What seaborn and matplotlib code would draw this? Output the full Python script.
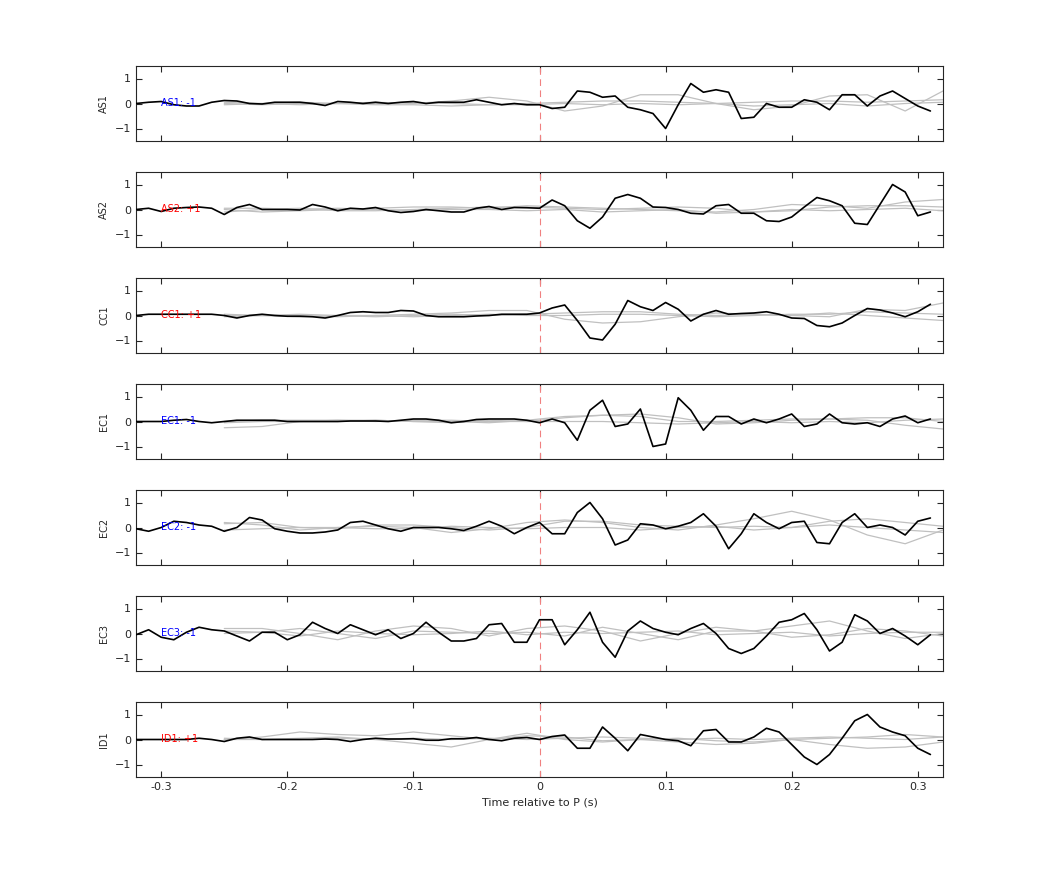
import numpy as np
import pandas as pd
import matplotlib
matplotlib.use("Agg")
import matplotlib.pyplot as plt
import seaborn as sns

stations = ["AS1", "AS2", "CC1", "EC1", "EC2", "EC3", "ID1"]
polarity = ["-1", "+1", "+1", "-1", "-1", "-1", "+1"]

t_black = np.round(np.arange(-0.32, 0.315, 0.01), 2)
t_gray = np.round(np.arange(-0.25, 0.33, 0.03), 2)

black = {
    "AS1": [0.0, 0.05, 0.08, -0.05, -0.1, -0.1, 0.05, 0.12, 0.1, 0.0, -0.02, 0.05, 0.05, 0.05,
            0.0, -0.08, 0.08, 0.05, 0.0, 0.05, 0.0, 0.05, 0.08, 0.0, 0.05, 0.05, 0.05,
            0.15, 0.05, -0.05, 0.0, -0.05, -0.05, -0.2, -0.15, 0.5, 0.45, 0.25, 0.3, -0.15, -0.25,
            -0.4, -1.0, -0.05, 0.8, 0.45, 0.55, 0.45, -0.6, -0.55, 0.0, -0.15, -0.15, 0.15, 0.05,
            -0.25, 0.35, 0.35, -0.1, 0.3, 0.5, 0.2, -0.1, -0.3],
    "AS2": [0.0, 0.05, -0.08, 0.05, 0.08, 0.1, 0.05, -0.2, 0.08, 0.2, 0.0, 0.0, 0.0, -0.02,
            0.2, 0.1, -0.05, 0.05, 0.02, 0.08, -0.05, -0.12, -0.08, 0.0, -0.05, -0.1, -0.1,
            0.05, 0.12, 0.0, 0.08, 0.07, 0.05, 0.38, 0.15, -0.45, -0.75, -0.3, 0.45, 0.6, 0.45,
            0.1, 0.08, 0.0, -0.15, -0.18, 0.15, 0.2, -0.15, -0.15, -0.45, -0.48, -0.3, 0.1, 0.48,
            0.35, 0.15, -0.55, -0.6, 0.2, 1.0, 0.7, -0.25, -0.1],
    "CC1": [0.0, 0.05, 0.05, 0.05, 0.05, 0.05, 0.05, 0.0, -0.1, 0.0, 0.05, 0.0, -0.03, -0.03,
            -0.05, -0.1, 0.0, 0.12, 0.15, 0.12, 0.12, 0.2, 0.18, 0.0, -0.05, -0.05, -0.05,
            -0.02, 0.0, 0.05, 0.05, 0.05, 0.1, 0.3, 0.42, -0.2, -0.9, -0.98, -0.35, 0.6, 0.35,
            0.2, 0.52, 0.25, -0.22, 0.05, 0.2, 0.05, 0.08, 0.1, 0.15, 0.05, -0.1, -0.12, -0.4,
            -0.45, -0.3, 0.0, 0.28, 0.22, 0.1, -0.05, 0.15, 0.45],
    "EC1": [0.0, 0.0, 0.0, 0.05, 0.08, 0.0, -0.05, 0.0, 0.05, 0.05, 0.05, 0.05, 0.0, 0.0,
            0.0, 0.0, 0.0, 0.02, 0.02, 0.02, 0.0, 0.05, 0.1, 0.1, 0.05, -0.05, 0.0,
            0.08, 0.1, 0.1, 0.1, 0.05, -0.05, 0.1, -0.05, -0.75, 0.45, 0.85, -0.2, -0.1, 0.5,
            -1.0, -0.9, 0.95, 0.45, -0.35, 0.2, 0.2, -0.1, 0.1, -0.05, 0.1, 0.3, -0.2, -0.1,
            0.3, -0.05, -0.1, -0.05, -0.2, 0.1, 0.22, -0.05, 0.1],
    "EC2": [-0.05, -0.15, 0.0, 0.25, 0.2, 0.1, 0.05, -0.15, 0.0, 0.4, 0.3, -0.05, -0.15, -0.22,
            -0.22, -0.18, -0.1, 0.2, 0.25, 0.1, -0.05, -0.15, 0.0, 0.0, 0.0, -0.05, -0.12,
            0.05, 0.25, 0.05, -0.25, 0.0, 0.2, -0.25, -0.25, 0.6, 1.0, 0.35, -0.7, -0.5, 0.15,
            0.1, -0.05, 0.05, 0.2, 0.55, 0.05, -0.85, -0.25, 0.55, 0.2, -0.05, 0.2, 0.25, -0.6,
            -0.65, 0.2, 0.55, 0.0, 0.1, 0.0, -0.3, 0.25, 0.38],
    "EC3": [-0.05, 0.15, -0.15, -0.25, 0.05, 0.25, 0.15, 0.1, -0.1, -0.3, 0.05, 0.05, -0.25, -0.05,
            0.45, 0.2, 0.0, 0.35, 0.15, -0.05, 0.15, -0.2, 0.0, 0.45, 0.05, -0.3, -0.3,
            -0.2, 0.35, 0.4, -0.35, -0.35, 0.55, 0.55, -0.45, 0.15, 0.85, -0.35, -0.95, 0.1, 0.5,
            0.2, 0.05, -0.05, 0.2, 0.4, 0.0, -0.6, -0.8, -0.6, -0.1, 0.45, 0.55, 0.8, 0.15,
            -0.7, -0.35, 0.75, 0.5, 0.0, 0.2, -0.1, -0.45, -0.05],
    "ID1": [0.0, 0.0, 0.0, 0.0, 0.0, 0.05, 0.0, -0.08, 0.05, 0.1, 0.0, 0.0, 0.0, 0.0,
            0.0, 0.02, 0.0, -0.08, 0.0, 0.05, 0.02, 0.02, 0.03, -0.03, -0.03, 0.03, 0.03,
            0.08, 0.0, -0.05, 0.05, 0.08, 0.0, 0.12, 0.18, -0.35, -0.35, 0.5, 0.05, -0.45, 0.2,
            0.1, 0.0, -0.05, -0.25, 0.35, 0.4, -0.1, -0.1, 0.1, 0.45, 0.3, -0.2, -0.7, -1.0,
            -0.6, 0.05, 0.75, 1.0, 0.5, 0.3, 0.15, -0.35, -0.6],
}

gray = {
    "AS1": [[0, -0.05, 0, 0, 0.05, 0, 0.1, 0.25, 0.1, -0.3, -0.1, 0.35, 0.35, 0.0, -0.25, -0.1, 0.3, 0.35, -0.3, 0.5],
            [0.05, 0, 0.05, 0, 0, 0.05, 0, -0.05, 0, 0.05, 0.1, 0.1, 0.05, 0.0, 0.05, 0.1, 0.1, 0.05, 0.1, 0.15],
            [-0.05, 0, -0.05, 0, -0.05, -0.05, -0.1, -0.05, -0.05, 0, -0.05, 0, -0.05, 0, -0.1, -0.05, 0, -0.1, 0, 0.05]],
    "AS2": [[0.0, -0.1, -0.05, 0.0, 0.05, 0.1, 0.1, 0.05, 0.15, 0.1, 0.05, 0.0, -0.05, -0.1, 0.0, 0.2, 0.15, 0.05, 0.3, 0.4],
            [-0.1, 0.0, 0.05, -0.05, -0.05, 0.0, 0.05, 0.1, 0.1, 0.05, 0.0, 0.05, 0.1, 0.05, -0.1, -0.05, 0.1, 0.15, 0.15, 0.1],
            [0.05, 0.05, 0.0, 0.05, 0.0, -0.05, 0.0, 0.0, -0.05, 0.0, -0.1, -0.05, 0.0, -0.15, -0.1, 0.0, -0.05, 0.0, 0.05, -0.05]],
    "CC1": [[0.0, 0.0, -0.05, 0.0, 0.0, 0.05, 0.1, 0.2, 0.2, -0.15, -0.3, -0.25, -0.05, 0.1, 0.05, 0.0, -0.05, 0.25, 0.2, 0.5],
            [0.05, 0.0, 0.05, 0.0, -0.05, 0.0, 0.05, 0.0, 0.05, 0.1, 0.15, 0.15, 0.05, 0.0, 0.05, 0.0, 0.1, 0.0, -0.1, -0.2],
            [-0.05, 0.0, 0.0, -0.05, 0.0, -0.05, 0.0, 0.05, 0.0, 0.0, 0.05, 0.05, 0.0, -0.05, 0.0, 0.05, 0.05, 0.15, 0.1, 0.05]],
    "EC1": [[-0.25, -0.2, 0.0, 0.05, 0.05, 0.0, 0.0, -0.05, 0.05, 0.2, 0.25, 0.2, 0.0, 0.0, 0.05, 0.1, 0.1, 0.05, -0.15, -0.3],
            [0.0, 0.05, 0.05, 0.05, 0.0, 0.05, 0.05, 0.0, 0.0, 0.15, 0.25, 0.3, 0.15, -0.1, -0.05, 0.05, 0.1, 0.15, 0.15, 0.0],
            [-0.05, 0.0, 0.0, 0.0, 0.05, 0.0, -0.05, 0.05, 0.0, 0.0, 0.0, -0.05, -0.1, -0.05, 0.0, -0.05, 0.0, -0.05, 0.05, 0.1]],
    "EC2": [[0.2, 0.1, -0.1, 0.0, 0.05, 0.0, -0.2, -0.05, 0.2, 0.3, 0.2, 0.0, -0.1, 0.1, 0.35, 0.65, 0.3, -0.3, -0.65, -0.1],
            [0.15, 0.2, 0.0, -0.05, 0.1, 0.1, 0.0, -0.1, 0.0, 0.25, 0.25, 0.1, 0.05, 0.0, 0.05, 0.0, 0.25, 0.35, 0.2, 0.05],
            [-0.1, -0.05, 0.0, 0.0, -0.05, -0.05, 0.05, 0.0, -0.05, 0.0, 0.0, -0.1, 0.0, 0.05, -0.1, 0.0, 0.1, 0.0, -0.1, -0.2]],
    "EC3": [[0.2, 0.2, 0.0, -0.25, 0.1, 0.3, 0.2, -0.1, 0.2, 0.3, 0.1, -0.3, 0.0, 0.25, 0.1, 0.3, 0.5, 0.1, -0.2, 0.0],
            [0.1, 0.05, 0.2, 0.0, -0.2, 0.1, 0.05, 0.0, 0.05, -0.1, 0.25, 0.0, -0.25, 0.1, 0.1, -0.15, -0.05, 0.2, 0.1, -0.1],
            [0.0, 0.05, -0.1, 0.1, 0.0, -0.05, 0.0, 0.1, -0.05, 0.05, 0.0, 0.05, 0.1, -0.05, 0.0, 0.05, -0.1, 0.0, 0.05, 0.05]],
    "ID1": [[0.0, 0.1, 0.3, 0.2, 0.15, 0.3, 0.15, 0.0, 0.25, 0.0, -0.1, 0.0, 0.05, -0.05, -0.1, 0.0, 0.05, 0.1, 0.2, 0.1],
            [0.0, 0.0, 0.05, 0.1, 0.0, -0.15, -0.3, 0.0, 0.15, 0.1, -0.05, 0.0, -0.1, -0.2, -0.15, 0.0, -0.2, -0.35, -0.3, -0.1],
            [0.05, 0.0, 0.0, 0.05, 0.0, 0.05, 0.0, 0.05, 0.0, 0.05, 0.1, 0.05, 0.0, 0.05, 0.0, 0.05, 0.1, 0.05, 0.0, 0.1]],
}

sns.set_style("ticks")
plt.rcParams.update({"xtick.direction": "in", "ytick.direction": "in",
                     "font.size": 8, "axes.linewidth": 0.8,
                     "xtick.major.size": 4, "ytick.major.size": 4})

fig = plt.figure(figsize=(10.42, 8.75), dpi=100)
W, H = 1042, 875
for i, st in enumerate(stations):
    top = 66 + 106 * i
    ax = fig.add_axes([136 / W, 1 - (top + 75) / H, (943 - 136) / W, 75 / H])
    for k, g in enumerate(gray[st]):
        sns.lineplot(x=t_gray, y=g, ax=ax, color="#c0c0c0", lw=0.9, zorder=1)
    sns.lineplot(x=t_black, y=black[st], ax=ax, color="black", lw=1.2, zorder=3)
    ax.axvline(0, color="#f08080", ls=(0, (6, 4)), lw=0.8, zorder=2)
    col = "blue" if polarity[i] == "-1" else "red"
    ax.text(-0.30, 0, f"{st}: {polarity[i]}", color=col, fontsize=7, va="center", zorder=4)
    ax.set_xlim(-0.32, 0.32)
    ax.set_ylim(-1.5, 1.5)
    ax.set_yticks([-1, 0, 1])
    ax.set_xticks([-0.3, -0.2, -0.1, 0, 0.1, 0.2, 0.3])
    ax.tick_params(top=True, right=True, labelsize=8)
    ax.set_ylabel(st, fontsize=7)
    if i < len(stations) - 1:
        ax.set_xticklabels([])
    else:
        ax.set_xticklabels(["-0.3", "-0.2", "-0.1", "0", "0.1", "0.2", "0.3"])
        ax.set_xlabel("Time relative to P (s)", fontsize=8)

fig.savefig("out.png", dpi=100)
